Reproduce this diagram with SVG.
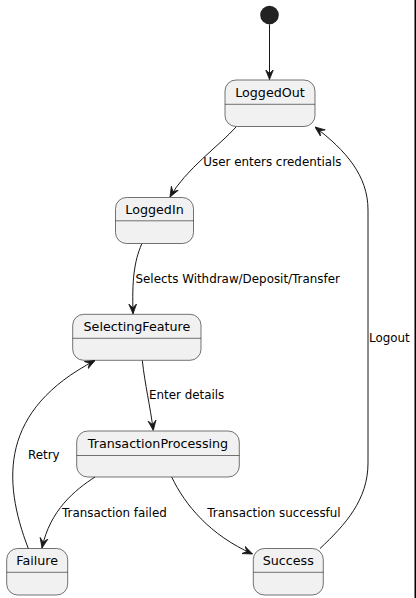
<svg xmlns="http://www.w3.org/2000/svg" width="416" height="598" viewBox="0 0 416 598">
<defs>
<marker id="arr" viewBox="0 0 10 10" refX="10" refY="5" markerWidth="10" markerHeight="10" markerUnits="userSpaceOnUse" orient="auto">
<path d="M0,1 L10,5 L0,9 L4,5 Z" fill="#181818" stroke="#181818" stroke-width="0.8" stroke-linejoin="miter"/>
</marker>
</defs>
<style>
.st rect{fill:#F1F1F1;stroke:#181818;stroke-width:0.6}
.st line{stroke:#181818;stroke-width:0.6}
.nm{font-family:"DejaVu Sans","Liberation Sans",sans-serif;font-size:12.7px;fill:#000;text-anchor:middle}
.lb{font-family:"DejaVu Sans","Liberation Sans",sans-serif;font-size:11.9px;fill:#000}
.e{fill:none;stroke:#181818;stroke-width:1;marker-end:url(#arr)}
</style>
<rect width="416" height="598" fill="#FFFFFF"/>
<rect x="414.5" y="0" width="1.5" height="598" fill="#000"/>
<g id="start"><circle cx="269.5" cy="15" r="9.3" fill="#222222"/></g>
<g id="LoggedOut" class="st"><rect x="225" y="80" width="90" height="46.5" rx="11" ry="11"/><line x1="225" y1="104.3" x2="315" y2="104.3"/><text class="nm" x="270" y="96.5">LoggedOut</text></g>
<g id="LoggedIn" class="st"><rect x="115.5" y="197.5" width="78" height="46" rx="11" ry="11"/><line x1="115.5" y1="220.8" x2="193.5" y2="220.8"/><text class="nm" x="154.5" y="214">LoggedIn</text></g>
<g id="SelectingFeature" class="st"><rect x="72.7" y="314.3" width="128.3" height="46" rx="11" ry="11"/><line x1="72.7" y1="338.3" x2="201" y2="338.3"/><text class="nm" x="136.9" y="331">SelectingFeature</text></g>
<g id="TransactionProcessing" class="st"><rect x="76.7" y="431" width="162.6" height="46" rx="11" ry="11"/><line x1="76.7" y1="455.5" x2="239.3" y2="455.5"/><text class="nm" x="158" y="448">TransactionProcessing</text></g>
<g id="Failure" class="st"><rect x="6.7" y="548.5" width="61" height="46.5" rx="11" ry="11"/><line x1="6.7" y1="572.3" x2="67.7" y2="572.3"/><text class="nm" x="37.2" y="565">Failure</text></g>
<g id="Success" class="st"><rect x="253.3" y="548.5" width="70" height="46.5" rx="11" ry="11"/><line x1="253.3" y1="572.3" x2="323.3" y2="572.3"/><text class="nm" x="288.3" y="565">Success</text></g>
<g id="connectors">
<path class="e" d="M269.5,24.3 L269.5,79.5"/>
<path class="e" d="M236,127 C220,145 185,170 170,197"/>
<path class="e" d="M141.7,244 C134,262 132,280 133,313.8"/>
<path class="e" d="M142.3,360.5 C145,385 150,405 153.3,430.5"/>
<path class="e" d="M95,477 C75,490 50,510 42,548"/>
<path class="e" d="M171.7,477 C185,505 210,535 252.5,554"/>
<path class="e" d="M28.3,548.5 C2,480 0,410 95,360.5"/>
<path class="e" d="M320,548.5 C345,525 368,500 368,463 L368,210 C368,175 345,150 315,127"/>
<text class="lb" x="203.3" y="166">User enters credentials</text>
<text class="lb" x="135.5" y="282.5">Selects Withdraw/Deposit/Transfer</text>
<text class="lb" x="149" y="399">Enter details</text>
<text class="lb" x="28" y="459">Retry</text>
<text class="lb" x="62" y="517">Transaction failed</text>
<text class="lb" x="207.3" y="517">Transaction successful</text>
<text class="lb" x="369" y="342">Logout</text>
</g>
</svg>
